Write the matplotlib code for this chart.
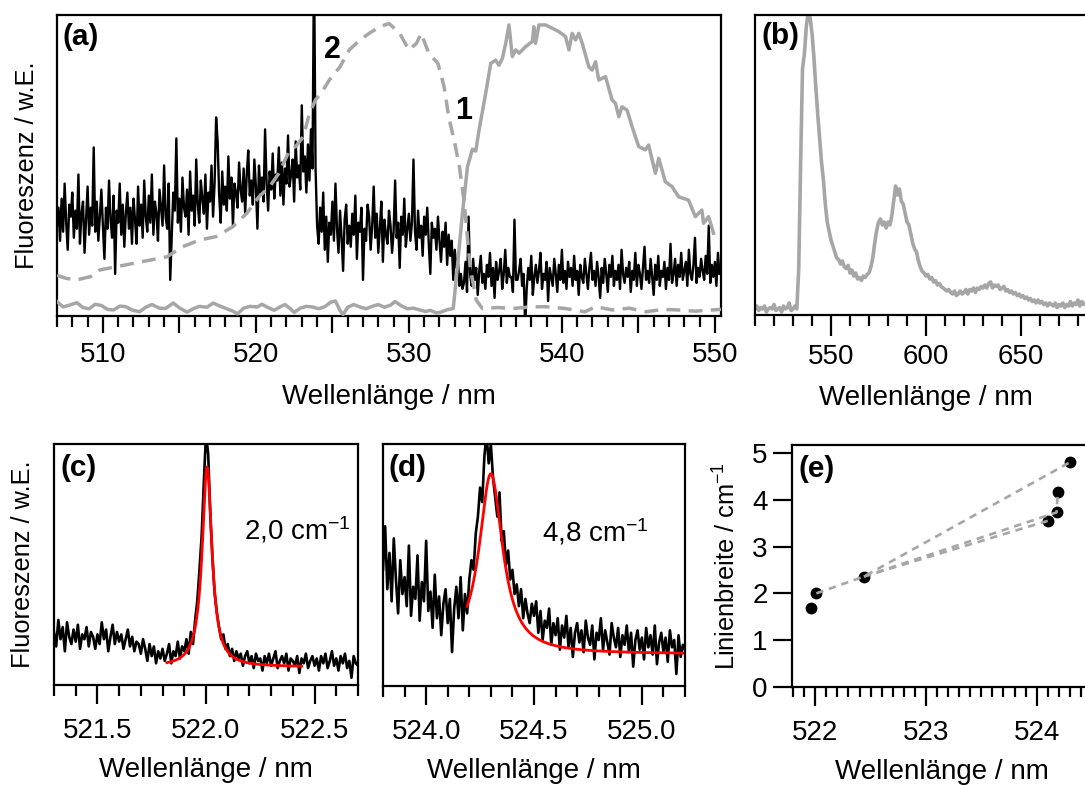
import numpy as np
import matplotlib
matplotlib.use("Agg")
import matplotlib.pyplot as plt
from matplotlib.ticker import MultipleLocator, FuncFormatter, FormatStrFormatter

plt.rcParams['font.family'] = ['Liberation Sans', 'DejaVu Sans']
plt.rcParams['mathtext.fontset'] = 'custom'
plt.rcParams['mathtext.rm'] = 'Liberation Sans'
plt.rcParams['mathtext.it'] = 'Liberation Sans:italic'
plt.rcParams['mathtext.bf'] = 'Liberation Sans:bold'

# ---------------------------------------------------------------- data
# (a) black: excitation scan, 0.1 nm grid starting at 507.0 nm (arb. units)
a_black_start, a_black_step = 507.0, 0.1
a_black = [
    # 507.0 - 523.7 nm
    30, 36, 25, 39, 28, 44, 31, 22, 37, 33, 41, 26,
    35, 29, 47, 24, 34, 38, 21, 32, 43, 27, 36, 30,
    56, 28, 38, 25, 33, 42, 30, 19, 36, 29, 45, 32,
    26, 40, 14, 35, 31, 44, 27, 37, 23, 34, 41, 29,
    36, 24, 39, 32, 24, 43, 30, 37, 26, 45, 33, 28,
    40, 31, 47, 27, 38, 34, 25, 42, 36, 30, 50, 33,
    29, 44, 12, 26, 41, 35, 59, 31, 39, 28, 46, 36,
    33, 42, 27, 48, 35, 40, 30, 52, 37, 31, 45, 39,
    34, 47, 29, 41, 38, 50, 33, 44, 66, 58, 40, 31,
    48, 37, 43, 35, 53, 39, 46, 30, 44, 41, 36, 51,
    42, 38, 49, 34, 47, 55, 40, 45, 37, 52, 43, 29,
    50, 41, 46, 38, 62, 44, 35, 48, 42, 54, 39, 47,
    45, 56, 40, 51, 37, 49, 44, 60, 43, 47, 52, 38,
    58, 46, 50, 42, 70, 48, 53, 41, 57, 45, 62, 49,
    # laser line at 523.8 nm
    120,
    # 523.9 - 533.5 nm
    49, 30, 24, 36, 28, 41, 22, 33, 18, 31, 27, 38,
    25, 44, 29, 21, 35, 26, 15, 32, 37, 24, 30, 23,
    34, 27, 40, 19, 31, 28, 36, 12, 29, 25, 37, 33,
    22, 30, 43, 26, 34, 21, 29, 38, 18, 32, 27, 24,
    35, 30, 21, 28, 45, 26, 31, 16, 33, 27, 39, 23,
    29, 34, 25, 31, 52, 28, 22, 35, 26, 30, 20, 33,
    27, 36, 24, 14, 31, 26, 29, 22, 33, 25, 18, 28,
    23, 31, 17, 27, 20, 25, 12, 22, 16, 19, 10, 14,
    9,
    # 533.6 - 550.3 nm
    11, 18, 8, 33, 14, 10, 19, 12, 16, 7, 15, 20,
    11, 14, 9, 17, 13, 21, 10, 16, 6, 18, 12, 15,
    19, 9, 14, 22, 11, 16, 13, 13, 8, 32, 12, 12,
    15, 19, 10, 14, -3, 9, 16, 12, 20, 7, 13, 17,
    11, 15, 21, 9, 14, 12, 18, 5, 16, 13, 10, 19,
    14, 8, 17, 12, 22, 11, 15, 9, 18, 13, 16, 10,
    20, 12, 15, 7, 17, 13, 11, 19, 14, 9, 16, 21,
    12, 15, 10, 18, 13, 6, 16, 11, 19, 14, 8, 17,
    13, 20, 10, 15, 12, 17, 9, 22, 14, 11, 16, 13,
    18, 8, 15, 12, 21, 10, 17, 14, 9, 16, 23, 12,
    15, 11, 19, 13, 7, 17, 12, 20, 10, 15, 13, 18,
    9, 16, 12, 24, 11, 14, 19, 10, 17, 13, 21, 12,
    15, 18, 10, 22, 14, 12, 17, 26, 11, 16, 13, 19,
    15, 12, 20, 14, 30, 11, 17, 13, 18, 10, 21, 14,
]

# (a) grey solid, trace "1"
a_one_nm = [
    507.0, 507.4, 507.8, 508.3, 508.7, 509.1, 509.5, 509.9, 510.3, 510.7,
    511.1, 511.5, 511.9, 512.4, 512.8, 513.2, 513.7, 514.1, 514.6, 515.0,
    515.5, 515.9, 516.3, 516.8, 517.2, 517.6, 518.1, 518.5, 518.8, 519.2,
    519.6, 520.1, 520.4, 520.8, 521.2, 521.6, 521.9, 522.3, 522.5, 522.9,
    523.3, 523.7, 524.1, 524.5, 524.9, 525.2, 525.5, 525.7, 526.0, 526.4,
    526.8, 527.2, 527.6, 528.0, 528.4, 528.8, 529.1, 529.5, 529.9, 530.3,
    530.7, 531.1, 531.4, 531.8, 532.1, 532.5, 532.9,
    533.17, 533.50, 533.83, 534.15, 534.37, 534.59, 535.02, 535.35, 535.67, 535.89,
    536.11, 536.33, 536.54, 536.76, 536.98, 537.20, 537.63, 538.07, 538.17, 538.28,
    538.50, 538.93, 539.37, 539.80, 540.24, 540.46, 540.67, 540.89, 541.11, 541.33,
    541.76, 541.98, 542.20, 542.41, 542.85, 543.28, 543.50, 543.72, 543.93, 544.26,
    544.59, 545.02, 545.46, 545.67, 546.11, 546.33, 546.76, 547.20, 547.63, 548.28,
    548.72, 549.15, 549.26, 549.59, 549.91,
]
a_one_val = [
    4.8, 3.0, 3.6, 4.4, 2.8, 2.4, 3.9, 3.5, 2.2, 2.0,
    3.3, 3.1, 2.0, 1.4, 2.9, 3.8, 2.6, 2.5, 4.3, 2.7,
    1.3, 2.4, 3.2, 2.9, 4.3, 3.4, 2.4, 1.6, 0.7, 2.6,
    3.2, 3.0, 3.9, 2.8, 1.9, 3.1, 3.8, 2.2, 1.2, 2.6,
    3.2, 3.0, 2.4, 3.1, 4.6, 5.0, 1.8, 0.5, 2.9, 3.8,
    3.0, 2.4, 3.2, 3.8, 2.9, 3.6, 4.8, 3.4, 2.4, 2.6,
    2.0, 1.5, 1.9, 1.0, 1.3, 2.1, 2.5,
    16.4, 34.1, 49.6, 55.4, 54.8, 61.9, 74.0, 83.9, 85.0, 83.3,
    85.6, 90.6, 96.7, 86.2, 88.4, 87.3, 89.5, 91.2, 96.1, 90.6,
    96.7, 96.7, 95.6, 94.5, 92.8, 88.4, 93.9, 91.7, 93.9, 90.6,
    82.8, 81.7, 84.5, 78.4, 79.5, 71.8, 70.7, 66.2, 69.5, 68.4,
    62.9, 56.3, 55.2, 56.8, 47.4, 52.4, 44.6, 43.0, 39.6, 38.5,
    33.0, 35.2, 30.8, 33.0, 27.5,
]

# (a) grey dashed, trace "2"
a_two_nm = [
    507.0, 507.6, 508.3, 509.2, 509.8, 510.9, 512.0, 513.1, 514.2, 515.2,
    516.3, 517.4, 518.5, 519.4, 520.2, 520.9, 521.5, 522.2, 522.6, 523.1,
    523.5, 523.9, 524.4, 524.8, 525.5, 526.1, 526.8, 527.4, 528.1, 528.7,
    529.4, 530.0, 530.5, 530.8, 531.3, 531.9, 532.3, 532.6, 533.0, 533.3,
    533.6, 533.8, 534.0, 534.4, 534.8, 535.8, 536.8, 537.9, 538.9, 540.2,
    541.5, 542.2, 543.3, 544.4, 545.5, 546.6, 547.6, 548.7, 549.8, 550.4,
]
a_two_val = [
    13.5, 12.5, 12.0, 13.1, 15.3, 16.4, 17.5, 18.6, 19.7, 23.0,
    25.2, 26.4, 29.7, 34.1, 39.6, 43.0, 47.4, 55.1, 56.3, 59.6,
    67.3, 71.8, 75.1, 78.4, 82.8, 88.4, 91.7, 93.9, 96.1, 97.2,
    93.9, 88.4, 90.6, 93.9, 87.3, 83.9, 76.2, 66.2, 57.4, 49.6,
    38.5, 27.5, 16.4, 5.3, 2.5, 2.8, 2.5, 3.0, 3.1, 2.5,
    1.4, 3.1, 2.0, 2.6, 1.4, 2.2, 2.0, 1.6, 2.0, 2.2,
]

# (b) dispersed fluorescence, 1 nm grid starting at 510 nm
b_start, b_step = 510.0, 1.0
b_vals = [
    2, 3, 1.5, 2.5, 2, 3, 1, 2, 2.5, 2,
    3.5, 1.5, 2, 2.5, 1, 3, 2, 2.5, 4, 1.5,
    2, 3, 2, 15, 50, 82, 87, 96, 101, 99,
    94, 86, 76, 67, 59, 51, 45, 37, 31, 28,
    25, 23, 21, 19, 18.5, 17, 18, 16, 15.5, 16.5,
    14, 15, 13, 14, 12, 12.5, 11.5, 13, 12.5, 13.5,
    14, 16, 19, 24, 28, 31, 32, 30, 31, 29,
    31, 30, 33, 38, 43, 40, 42, 38, 37, 34,
    31, 30, 27, 24, 22, 21, 18, 16, 14.5, 14,
    13, 13.5, 12, 12.5, 11, 11.5, 10, 10.5, 9.5, 9,
    8.5, 8, 8.5, 7.5, 7, 8, 6.5, 7, 8, 7,
    7.5, 8.5, 7, 8.5, 8, 9, 7.5, 9, 8.5, 9.5,
    9, 10, 9, 10.5, 11, 9, 10, 9.5, 10, 8.5,
    9, 9.5, 8, 8.5, 7.5, 8, 7, 7.5, 6.5, 7,
    6, 6.5, 5.5, 6, 5, 5.5, 4.5, 5, 4, 5,
    4, 4.5, 3.5, 4, 3, 4, 3.5, 3, 4, 2.5,
    3.5, 3, 4, 2.5, 3.5, 3, 4.5, 3, 4, 3.5,
    5, 3, 4.5, 3.5, 4,
]

# (c) single line near 522.0 nm, 0.01 nm grid
c_start, c_step = 521.30, 0.01
c_vals = [
    22, 16, 27, 19, 24, 14, 26, 20, 17, 23,
    18, 25, 15, 21, 19, 24, 16, 22, 20, 15,
    21, 17, 26, 19, 23, 14, 20, 25, 17, 22,
    18, 21, 15, 19, 23, 16, 20, 14, 18, 17,
    13, 19, 15, 10, 17, 12, 16, 9, 14, 11,
    15, 10, 13, 17, 9, 14, 12, 18, 11, 16,
    14, 19, 13, 22, 17, 27, 35, 48, 62, 84,
    104, 96, 70, 52, 38, 30, 24, 19, 21, 15,
    17, 12, 15, 10, 14, 11, 13, 8, 12, 14,
    9, 12, 7, 13, 10, 11, 6, 12, 9, 13,
    8, 11, 14, 7, 10, 12, 9, 13, 6, 11,
    10, 8, 12, 5, 11, 9, 13, 7, 10, 12,
    8, 11, 6, 12, 9, 13, 7, 10, 14, 8,
    11, 6, 12, 9, 13, 7, 10, 3, 12, 9,
    8,
]

# (d) single line near 524.3 nm, 0.01 nm grid
d_start, d_step = 523.80, 0.01
d_vals = [
    48, 66, 40, 55, 35, 61, 44, 30, 52, 38,
    45, 33, 58, 29, 41, 36, 54, 27, 43, 35,
    60, 31, 39, 24, 46, 28, 37, 21, 34, 40,
    26, 36, 14, 32, 41, 28, 45, 23, 38, 30,
    44, 52, 48, 63, 70, 82, 76, 95, 104, 92,
    100, 86, 78, 70, 80, 60, 64, 50, 56, 44,
    48, 38, 42, 33, 40, 28, 36, 30, 26, 34,
    29, 35, 22, 31, 19, 27, 24, 32, 17, 26,
    21, 28, 15, 25, 20, 29, 16, 24, 12, 22,
    26, 18, 23, 14, 27, 20, 17, 25, 11, 22,
    19, 28, 15, 23, 18, 13, 26, 20, 16, 24,
    12, 21, 17, 25, 14, 22, 8, 19, 23, 15,
    20, 11, 24, 16, 21, 13, 25, 9, 18, 22,
    14, 20, 10, 23, 16, 19, 5, 21, 12, 17,
    15,
]

# Lorentzian fits: centre (nm), FWHM (cm^-1), amplitude, offset, fit range (nm)
c_fit = dict(center=522.005, width_cm=2.0, amp=83.0, base=7.5, lo=521.82, hi=522.44)
d_fit = dict(center=524.300, width_cm=4.8, amp=74.5, base=13.2, lo=524.19, hi=525.20)

# (e) fitted line widths vs. wavelength
e_nm = [521.96, 522.01, 522.44, 524.10, 524.18, 524.19, 524.30]
e_width = [1.68, 2.0, 2.36, 3.55, 3.73, 4.16, 4.80]
e_links = [[1, 2, 6], [2, 3], [2, 4, 5]]

# ---------------------------------------------------------------- figure
W, H = 1085, 785
fig = plt.figure(figsize=(W / 100, H / 100), dpi=100)

def rect(l, t, r, b):
    return [l / W, 1 - b / H, (r - l) / W, (b - t) / H]

GRAY = '#a6a6a6'
FS = 20
FS_Y = 18.3
XLABEL = 'Wellenlänge / nm'
YLABEL = 'Fluoreszenz / w.E.'


def style(ax, major_len=12.5, minor_len=8, pad=6):
    for s in ax.spines.values():
        s.set_linewidth(1.6)
    ax.tick_params(axis='x', which='major', direction='out', length=major_len,
                   width=1.6, labelsize=FS, pad=pad, top=False)
    ax.tick_params(axis='x', which='minor', direction='out', length=minor_len,
                   width=1.6, top=False)
    ax.tick_params(axis='y', which='both', left=False, right=False,
                   labelleft=False)


def panel_label(ax, s, x=0.012, y=0.975):
    ax.text(x, y, s, transform=ax.transAxes, ha='left', va='top',
            fontsize=21.5, fontweight='bold')


def lorentz(p, n=400):
    x = np.linspace(p['lo'], p['hi'], n)
    fwhm_nm = p['center'] ** 2 * p['width_cm'] * 1e-7
    g = fwhm_nm / 2
    return x, p['base'] + p['amp'] * g ** 2 / ((x - p['center']) ** 2 + g ** 2)


# ---- (a)
ax = fig.add_axes(rect(57, 15, 721, 316))
xa = a_black_start + a_black_step * np.arange(len(a_black))
ax.plot(xa, a_black, color='black', lw=1.7, zorder=2)
ax.plot(a_two_nm, a_two_val, color=GRAY, lw=2.5, dashes=(4.0, 2.4), zorder=3)
ax.plot(a_one_nm, a_one_val, color=GRAY, lw=2.5, zorder=3)
ax.set_xlim(507.0, 550.4)
ax.set_ylim(0, 100)
style(ax, pad=6.5)
ax.xaxis.set_major_locator(MultipleLocator(5))
ax.xaxis.set_major_formatter(FuncFormatter(
    lambda v, p: f'{v:.0f}' if round(v) % 10 == 0 else ''))
ax.xaxis.set_minor_locator(MultipleLocator(1))
ax.set_xlabel(XLABEL, fontsize=FS, labelpad=11)
ax.set_ylabel(YLABEL, fontsize=FS_Y, labelpad=13)
panel_label(ax, '(a)', x=0.008)
ax.text(525.0, 88.5, '2', ha='center', va='center', fontsize=22, fontweight='bold')
ax.text(533.55, 68.0, '1', ha='center', va='center', fontsize=22, fontweight='bold')

# ---- (b)
ax = fig.add_axes(rect(755, 15, 1097, 315))
xb = b_start + b_step * np.arange(len(b_vals))
ax.plot(xb, b_vals, color=GRAY, lw=2.6)
ax.set_xlim(510, 690)
ax.set_ylim(0, 100)
style(ax, major_len=15, pad=6)
ax.xaxis.set_major_locator(MultipleLocator(50))
ax.xaxis.set_major_formatter(FormatStrFormatter('%d'))
ax.xaxis.set_minor_locator(MultipleLocator(10))
ax.set_xlabel(XLABEL, fontsize=FS, labelpad=11)
panel_label(ax, '(b)', x=0.02)

# ---- (c)
ax = fig.add_axes(rect(54, 444, 358, 685))
xc = c_start + c_step * np.arange(len(c_vals))
ax.plot(xc, c_vals, color='black', lw=1.9)
fx, fy = lorentz(c_fit)
ax.plot(fx, fy, color='#ff0000', lw=2.0)
ax.set_xlim(521.3, 522.7)
ax.set_ylim(0, 100)
style(ax, major_len=14, minor_len=8, pad=10)
ax.xaxis.set_major_locator(MultipleLocator(0.5))
ax.xaxis.set_major_formatter(FormatStrFormatter('%.1f'))
ax.xaxis.set_minor_locator(MultipleLocator(0.1))
ax.set_xlabel(XLABEL, fontsize=FS, labelpad=9)
ax.set_ylabel(YLABEL, fontsize=FS_Y, labelpad=14)
panel_label(ax, '(c)', x=0.02, y=0.96)
ax.text(522.174, 60.5, f"{c_fit['width_cm']:.1f}".replace('.', ',') + r' cm$^{-1}$',
        ha='left', va='baseline', fontsize=FS)

# ---- (d)
ax = fig.add_axes(rect(383, 444, 685, 686))
xd = d_start + d_step * np.arange(len(d_vals))
ax.plot(xd, d_vals, color='black', lw=1.9)
fx, fy = lorentz(d_fit)
ax.plot(fx, fy, color='#ff0000', lw=2.0)
ax.set_xlim(523.8, 525.2)
ax.set_ylim(0, 100)
style(ax, major_len=14, minor_len=8, pad=10)
ax.xaxis.set_major_locator(MultipleLocator(0.5))
ax.xaxis.set_major_formatter(FormatStrFormatter('%.1f'))
ax.xaxis.set_minor_locator(MultipleLocator(0.1))
ax.set_xlabel(XLABEL, fontsize=FS, labelpad=9)
panel_label(ax, '(d)', x=0.017, y=0.96)
ax.text(524.535, 59.6, f"{d_fit['width_cm']:.1f}".replace('.', ',') + r' cm$^{-1}$',
        ha='left', va='baseline', fontsize=FS)

# ---- (e)
ax = fig.add_axes(rect(792, 445, 1092, 687))
ax.plot(e_nm, e_width, 'o', color='black', ms=7.5, zorder=2)
for link in e_links:
    ax.plot([e_nm[i] for i in link], [e_width[i] for i in link], color=GRAY,
            lw=1.9, dashes=(2.8, 2.2), zorder=3)
ax.set_xlim(521.79, 524.5)
ax.set_ylim(0, 5.17)
style(ax, major_len=14, minor_len=7.5, pad=10)
ax.tick_params(axis='y', which='major', left=True, labelleft=True, direction='out',
               length=13.5, width=1.6, labelsize=FS, pad=4)
ax.xaxis.set_major_locator(MultipleLocator(1))
ax.xaxis.set_major_formatter(FormatStrFormatter('%d'))
ax.xaxis.set_minor_locator(MultipleLocator(0.1))
ax.yaxis.set_major_locator(MultipleLocator(1))
ax.set_xlabel(XLABEL, fontsize=FS, labelpad=9)
ax.set_ylabel(r'Linienbreite / cm$^{-1}$', fontsize=FS_Y, labelpad=8)
panel_label(ax, '(e)', x=0.02, y=0.96)

fig.savefig('out.png', dpi=100)
